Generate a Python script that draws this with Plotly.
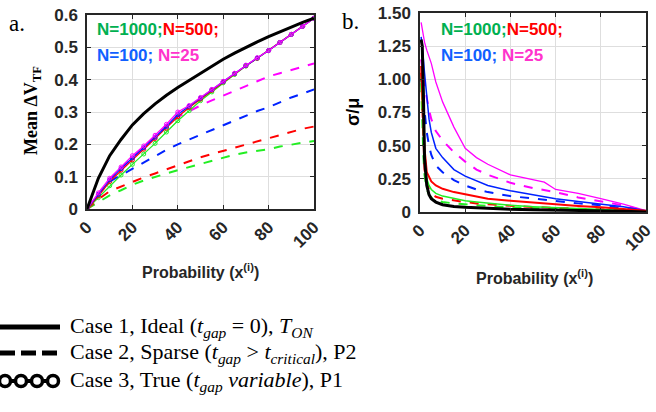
import plotly.graph_objects as go

# ---------------- data: panel a (Mean dV_TF) ----------------
xa = [0, 5, 10, 15, 20, 25, 30, 35, 40, 45, 50, 55, 60, 65, 70, 75, 80, 85, 90, 95, 100]
a_case1 = [0, 0.095, 0.165, 0.215, 0.26, 0.295, 0.325, 0.352, 0.376, 0.398, 0.42, 0.442, 0.463, 0.482, 0.5, 0.517, 0.533, 0.548, 0.563, 0.577, 0.59]
a_case3_m = [0, 0.05, 0.095, 0.13, 0.165, 0.195, 0.228, 0.262, 0.3, 0.32, 0.345, 0.37, 0.395, 0.42, 0.445, 0.468, 0.49, 0.515, 0.54, 0.565, 0.59]
a_case3_b = [0, 0.045, 0.09, 0.125, 0.158, 0.19, 0.222, 0.255, 0.292, 0.318, 0.343, 0.369, 0.394, 0.419, 0.444, 0.467, 0.49, 0.515, 0.54, 0.565, 0.59]
a_case3_r = [0, 0.04, 0.085, 0.12, 0.152, 0.185, 0.218, 0.25, 0.285, 0.314, 0.34, 0.367, 0.393, 0.418, 0.443, 0.466, 0.49, 0.515, 0.54, 0.565, 0.59]
a_case3_g = [0, 0.035, 0.072, 0.105, 0.138, 0.17, 0.203, 0.238, 0.273, 0.304, 0.335, 0.362, 0.39, 0.416, 0.442, 0.466, 0.49, 0.515, 0.54, 0.565, 0.59]
a_case2_m = [0, 0.048, 0.09, 0.125, 0.158, 0.19, 0.225, 0.258, 0.285, 0.303, 0.32, 0.336, 0.35, 0.365, 0.38, 0.395, 0.41, 0.42, 0.43, 0.44, 0.45]
a_case2_b = [0, 0.045, 0.085, 0.105, 0.125, 0.145, 0.165, 0.183, 0.2, 0.215, 0.23, 0.245, 0.26, 0.275, 0.29, 0.303, 0.315, 0.33, 0.345, 0.357, 0.37]
a_case2_r = [0, 0.03, 0.055, 0.07, 0.085, 0.098, 0.11, 0.123, 0.135, 0.148, 0.16, 0.17, 0.18, 0.19, 0.2, 0.21, 0.22, 0.23, 0.24, 0.248, 0.255]
a_case2_g = [0, 0.022, 0.042, 0.058, 0.075, 0.088, 0.1, 0.11, 0.12, 0.13, 0.14, 0.15, 0.16, 0.168, 0.175, 0.18, 0.185, 0.193, 0.2, 0.205, 0.21]

# ---------------- data: panel b (sigma/mu) ----------------
xb = [0.5, 1, 1.5, 2, 3, 4, 5, 7, 10, 15, 20, 25, 30, 40, 50, 55, 60, 70, 80, 90, 100]
b_case1 = [1.30, 1.25, 0.90, 0.40, 0.20, 0.13, 0.10, 0.075, 0.055, 0.042, 0.035, 0.03, 0.026, 0.02, 0.017, 0.016, 0.015, 0.012, 0.01, 0.006, 0.0]
b_case3_m = [1.43, 1.38, 1.33, 1.28, 1.22, 1.17, 1.12, 0.98, 0.83, 0.64, 0.48, 0.41, 0.36, 0.28, 0.24, 0.225, 0.17, 0.14, 0.10, 0.06, 0.01]
b_case2_m = [1.15, 1.10, 1.02, 0.95, 0.85, 0.77, 0.70, 0.61, 0.54, 0.45, 0.38, 0.32, 0.28, 0.22, 0.18, 0.165, 0.15, 0.11, 0.08, 0.05, 0.005]
b_case3_b = [1.32, 1.25, 1.15, 1.05, 0.85, 0.70, 0.60, 0.48, 0.41, 0.32, 0.27, 0.235, 0.20, 0.16, 0.13, 0.115, 0.10, 0.08, 0.06, 0.04, 0.01]
b_case2_b = [1.00, 0.95, 0.85, 0.75, 0.60, 0.50, 0.43, 0.35, 0.30, 0.24, 0.20, 0.17, 0.15, 0.12, 0.10, 0.09, 0.08, 0.065, 0.05, 0.03, 0.008]
b_case3_r = [1.10, 0.90, 0.65, 0.48, 0.30, 0.26, 0.23, 0.20, 0.175, 0.15, 0.135, 0.115, 0.10, 0.085, 0.07, 0.063, 0.055, 0.045, 0.035, 0.025, 0.01]
b_case2_r = [1.05, 0.75, 0.45, 0.32, 0.22, 0.17, 0.14, 0.115, 0.1, 0.085, 0.075, 0.065, 0.058, 0.047, 0.038, 0.034, 0.03, 0.025, 0.02, 0.012, 0.005]
b_case3_g = [1.02, 0.80, 0.55, 0.40, 0.25, 0.20, 0.17, 0.14, 0.12, 0.1, 0.085, 0.075, 0.065, 0.05, 0.04, 0.036, 0.032, 0.025, 0.02, 0.012, 0.005]
b_case2_g = [0.97, 0.65, 0.42, 0.28, 0.17, 0.13, 0.11, 0.09, 0.075, 0.065, 0.058, 0.05, 0.045, 0.035, 0.03, 0.027, 0.025, 0.02, 0.015, 0.01, 0.003]

# ticks
xticks = [0, 20, 40, 60, 80, 100]
ya_ticks = [0, 0.1, 0.2, 0.3, 0.4, 0.5, 0.6]
ya_text = ["0", "0.1", "0.2", "0.3", "0.4", "0.5", "0.6"]
yb_ticks = [0, 0.25, 0.5, 0.75, 1.0, 1.25, 1.5]
yb_text = ["0", "0.25", "0.50", "0.75", "1.00", "1.25", "1.50"]

legend_labels = [
    "Case 1, Ideal (<i>t</i><sub><i>gap</i></sub> = 0), <i>T</i><sub><i>ON</i></sub>",
    "Case 2, Sparse (<i>t</i><sub><i>gap</i></sub> > <i>t</i><sub><i>critical</i></sub>), P2",
    "Case 3, True (<i>t</i><sub><i>gap</i></sub> <i>variable</i>), P1",
]

GREEN, RED, BLUE, MAG = "#22ee22", "#ff0000", "#0022ff", "#ff00ff"

fig = go.Figure()

def add(x, y, color, dash, width, xa_, ya_, marker=False):
    fig.add_trace(go.Scatter(
        x=x, y=y, mode="lines+markers" if marker else "lines",
        line=dict(color=color, dash=dash, width=width),
        marker=dict(symbol="circle-open", size=4, color=color, line=dict(width=1)) if marker else None,
        xaxis=xa_, yaxis=ya_, showlegend=False, hoverinfo="skip"))

# panel a
add(xa, a_case2_g, GREEN, "dash", 2, "x", "y")
add(xa, a_case2_r, RED, "dash", 2, "x", "y")
add(xa, a_case2_b, BLUE, "dash", 2, "x", "y")
add(xa, a_case2_m, MAG, "dash", 2, "x", "y")
add(xa, a_case3_g, GREEN, "solid", 1.3, "x", "y", True)
add(xa, a_case3_r, RED, "solid", 1.3, "x", "y", True)
add(xa, a_case3_b, BLUE, "solid", 1.3, "x", "y", True)
add(xa, a_case3_m, MAG, "solid", 1.3, "x", "y", True)
add(xa, a_case1, "black", "solid", 3, "x", "y")

# panel b
add(xb, b_case3_m, MAG, "solid", 1.3, "x2", "y2")
add(xb, b_case2_m, MAG, "dash", 2, "x2", "y2")
add(xb, b_case3_b, BLUE, "solid", 1.5, "x2", "y2")
add(xb, b_case2_b, BLUE, "dash", 2, "x2", "y2")
add(xb, b_case2_g, GREEN, "dash", 2, "x2", "y2")
add(xb, b_case2_r, RED, "dash", 2, "x2", "y2")
add(xb, b_case3_g, GREEN, "solid", 1.5, "x2", "y2")
add(xb, b_case3_r, RED, "solid", 2, "x2", "y2")
add(xb, b_case1, "black", "solid", 3, "x2", "y2")

# legend keys on a hidden helper axis (pixel-like units)
key_x = [0, 60]
key_rows = [327, 353, 381]
fig.add_trace(go.Scatter(x=key_x, y=[key_rows[0]] * 2, mode="lines", line=dict(color="black", width=5),
                         xaxis="x3", yaxis="y3", showlegend=False, hoverinfo="skip"))
fig.add_trace(go.Scatter(x=key_x, y=[key_rows[1]] * 2, mode="lines", line=dict(color="black", width=5, dash="15px,6px"),
                         xaxis="x3", yaxis="y3", showlegend=False, hoverinfo="skip"))
fig.add_trace(go.Scatter(x=[5, 21, 37, 53], y=[key_rows[2]] * 4, mode="lines+markers",
                         line=dict(color="black", width=4),
                         marker=dict(symbol="circle", size=11, color="white", line=dict(color="black", width=3.5)),
                         xaxis="x3", yaxis="y3", showlegend=False, hoverinfo="skip"))

tickfont = dict(family="Liberation Sans", size=17, color="#262626", weight="bold")
common_x = dict(range=[0, 100], tickvals=xticks, tickangle=-45, showgrid=True, gridcolor="#dedede",
                ticks="inside", ticklen=4, tickcolor="#262626", showline=True, linecolor="#262626", linewidth=1.5,
                mirror="ticks", tickfont=tickfont, zeroline=False, automargin=False)
common_y = dict(showgrid=True, gridcolor="#dedede", ticks="inside", ticklen=4, tickcolor="#262626",
                showline=True, linecolor="#262626", linewidth=1.5, mirror="ticks", tickfont=tickfont,
                zeroline=False, ticklabelstandoff=4, automargin=False)

fig.update_layout(
    width=656, height=412, margin=dict(l=0, r=0, t=0, b=0, pad=0, autoexpand=False),
    paper_bgcolor="white", plot_bgcolor="white",
    xaxis=dict(domain=[87 / 656, 314 / 656], anchor="y", **common_x),
    yaxis=dict(domain=[203 / 412, 397 / 412], anchor="x", range=[0, 0.6], tickvals=ya_ticks, ticktext=ya_text, **common_y),
    xaxis2=dict(domain=[420 / 656, 646 / 656], anchor="y2", **common_x),
    yaxis2=dict(domain=[200 / 412, 399 / 412], anchor="x2", range=[0, 1.5], tickvals=yb_ticks, ticktext=yb_text, **common_y),
    xaxis3=dict(domain=[0, 66 / 656], anchor="y3", range=[0, 66], visible=False, automargin=False),
    yaxis3=dict(domain=[0, 103 / 412], anchor="x3", range=[412, 309], visible=False, automargin=False),
)

ann = []
def A(x, y, text, **kw):
    d = dict(x=x, y=1 - y / 412, xref="paper", yref="paper", text=text, showarrow=False,
             xanchor=kw.pop("xanchor", "left"), yanchor=kw.pop("yanchor", "middle"))
    d.update(kw)
    ann.append(d)

nfont = dict(family="Liberation Sans", size=17, weight="bold")
row1 = "<span style='color:#00b050'>N=1000;</span><span style='color:#ff0000'>N=500;</span>"
row2 = "<span style='color:#1060ff'>N=100;</span> <span style='color:#ff33cc'>N=25</span>"
A(95 / 656, 30, row1, font=nfont)
A(95 / 656, 56, row2, font=nfont)
A(439 / 656, 30, row1, font=nfont)
A(439 / 656, 55, row2, font=nfont)

A(17 / 656, 24, "a.", xanchor="center", font=dict(family="Liberation Serif", size=23, color="black"))
A(350 / 656, 22, "b.", xanchor="center", font=dict(family="Liberation Serif", size=23, color="black"))

titlefont = dict(family="Liberation Sans", size=16, color="#262626", weight="bold")
A(200 / 656, 271, "Probability (x<sup>(i)</sup>)", xanchor="center", font=titlefont)
A(534 / 656, 277, "Probability (x<sup>(i)</sup>)", xanchor="center", font=titlefont)
A(32 / 656, 111, "Mean ΔV<sub>TF</sub>", xanchor="center", textangle=-90,
  font=dict(family="Liberation Serif", size=18, color="black", weight="bold"))
A(353 / 656, 112, "σ/μ", xanchor="center", textangle=-90,
  font=dict(family="Liberation Sans", size=18, color="black", weight="bold"))

lfont = dict(family="Liberation Serif", size=22, color="black")
for r, t in zip(key_rows, legend_labels):
    A(68 / 656, r, t, font=lfont)

fig.update_layout(annotations=ann)
fig.write_html("out.html", config={"displayModeBar": False},
               post_script="document.body.style.margin='0';document.body.style.padding='0';")
